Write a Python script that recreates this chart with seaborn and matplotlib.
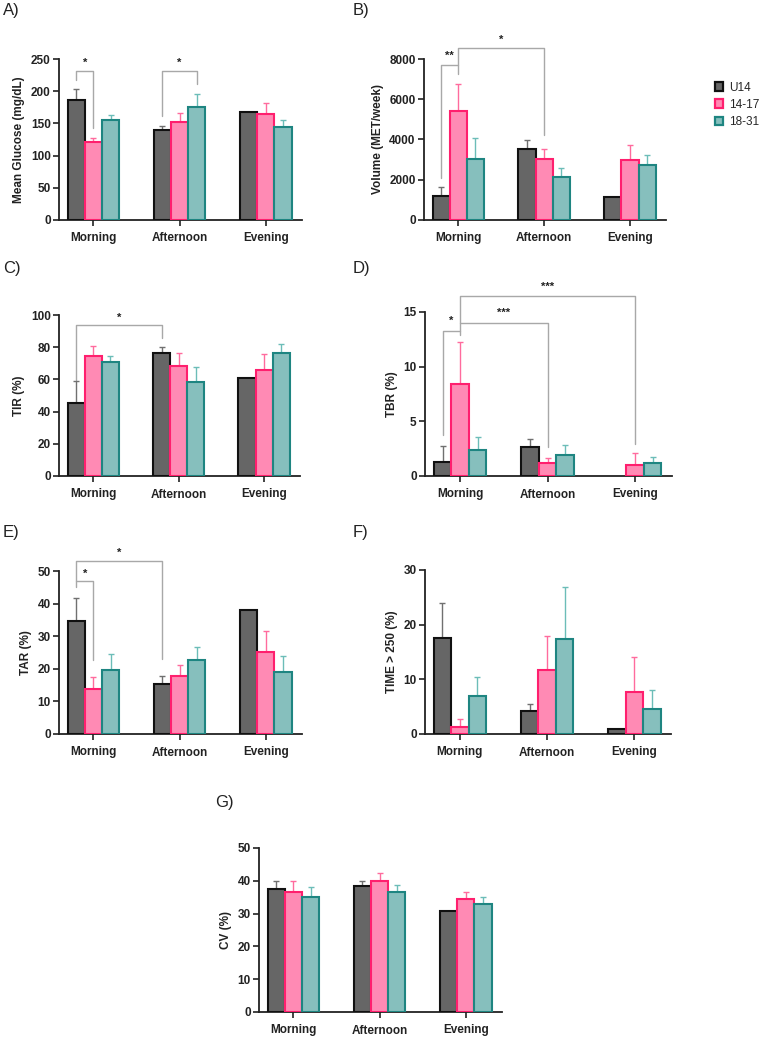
import numpy as np
import pandas as pd
import matplotlib
matplotlib.use("Agg")
import matplotlib.pyplot as plt
import seaborn as sns
from matplotlib.patches import Patch

# ---------------- data ----------------
periods = ["Morning", "Afternoon", "Evening"]
groups = ["U14", "14-17", "18-31"]

glu_u14 = [187, 140, 167]
glu_1417 = [121, 152, 164]
glu_1831 = [155, 176, 145]
glu_u14_err = [16, 6, 0]
glu_1417_err = [6, 14, 17]
glu_1831_err = [8, 20, 10]

vol_u14 = [1200, 3520, 1150]
vol_1417 = [5400, 3050, 3000]
vol_1831 = [3050, 2140, 2720]
vol_u14_err = [450, 440, 0]
vol_1417_err = [1380, 500, 720]
vol_1831_err = [1000, 450, 530]

tir_u14 = [45.5, 76.3, 60.6]
tir_1417 = [74.7, 68.3, 65.8]
tir_1831 = [70.7, 58.1, 76.1]
tir_u14_err = [13.5, 3.6, 0]
tir_1417_err = [6.0, 8.3, 9.9]
tir_1831_err = [3.8, 9.3, 6.1]

tbr_u14 = [1.28, 2.62, 0]
tbr_1417 = [8.38, 1.22, 1.04]
tbr_1831 = [2.41, 1.95, 1.16]
tbr_u14_err = [1.43, 0.8, 0]
tbr_1417_err = [3.88, 0.46, 1.06]
tbr_1831_err = [1.16, 0.85, 0.58]

tar_u14 = [34.8, 15.2, 37.9]
tar_1417 = [13.8, 17.8, 25.2]
tar_1831 = [19.6, 22.7, 19.1]
tar_u14_err = [7.0, 2.7, 0]
tar_1417_err = [3.6, 3.3, 6.4]
tar_1831_err = [4.8, 4.0, 4.9]

t250_u14 = [17.6, 4.2, 1.0]
t250_1417 = [1.3, 11.7, 7.6]
t250_1831 = [6.86, 17.45, 4.5]
t250_u14_err = [6.3, 1.3, 0]
t250_1417_err = [1.5, 6.2, 6.5]
t250_1831_err = [3.6, 9.5, 3.5]

cv_u14 = [37.4, 38.5, 30.9]
cv_1417 = [36.6, 39.8, 34.4]
cv_1831 = [35.2, 36.5, 33.0]
cv_u14_err = [2.6, 1.3, 0]
cv_1417_err = [3.2, 2.5, 2.3]
cv_1831_err = [2.8, 2.1, 2.1]

# significance brackets: (cat1, grp1, cat2, grp2, y_top, y_left_end, y_right_end, label, label_y)
sig_A = [(0, 0, 0, 1, 232, 217, 143, "*", 244),
         (1, 0, 1, 2, 232, 162, 211, "*", 244)]
sig_B = [(0, 0, 0, 1, 7720, 2095, 7260, "**", 8150),
         (0, 1, 1, 1, 8550, 7720, 4224, "*", 8950)]
sig_C = [(0, 0, 1, 0, 93.8, 59.5, 85.9, "*", 98.5)]
sig_D = [(0, 0, 0, 1, 13.3, 3.75, 12.9, "*", 14.2),
         (0, 1, 1, 1, 14.0, 13.3, 2.65, "***", 14.9),
         (0, 1, 2, 1, 16.5, 14.0, 2.9, "***", 17.3)]
sig_E = [(0, 0, 0, 1, 46.9, 45.1, 22.7, "*", 49.2),
         (0, 0, 1, 0, 53.0, 46.9, 23.0, "*", 55.5)]

# ---------------- style ----------------
fill_colors = ["#666666", "#FF8AB4", "#86BFBD"]
edge_colors = ["#111111", "#FF1F6E", "#1E8581"]
err_colors = ["#707070", "#FF6B9E", "#6CBDB8"]
bracket_color = "#A8A8A8"

sns.set_style("ticks")
plt.rcParams["font.family"] = ["Liberation Sans", "DejaVu Sans"]
plt.rcParams["font.weight"] = "bold"
plt.rcParams["axes.labelweight"] = "bold"
plt.rcParams["xtick.major.pad"] = 5
plt.rcParams["ytick.major.pad"] = 2

W, H = 761, 1038
fig = plt.figure(figsize=(W / 100, H / 100), dpi=100)


def make_ax(box):
    l, t, r, b = box
    return fig.add_axes([l / W, 1 - b / H, (r - l) / W, (b - t) / H])


def panel(box, vals, errs, yticks, ylabel, sigs=()):
    ax = make_ax(box)
    rows = []
    for g, v in zip(groups, vals):
        for p, val in zip(periods, v):
            rows.append({"period": p, "group": g, "value": val})
    df = pd.DataFrame(rows)
    sns.barplot(data=df, x="period", y="value", hue="group", order=periods,
                hue_order=groups, palette=fill_colors, width=0.6, errorbar=None,
                ax=ax, legend=False, linewidth=1.5, saturation=1)
    for cont, ec, erc, er in zip(ax.containers, edge_colors, err_colors, errs):
        for patch, e in zip(cont, er):
            patch.set_edgecolor(ec)
            patch.set_zorder(3)
            if patch.get_height() == 0:
                patch.set_visible(False)
                continue
            if e > 0:
                xc = patch.get_x() + patch.get_width() / 2
                yv = patch.get_height()
                ax.errorbar([xc], [yv], yerr=[[0], [e]], fmt="none", ecolor=erc,
                            elinewidth=1.0, capsize=2, capthick=1.0, zorder=2)
    ax.set_xlim(-0.40, 2.42)
    ax.set_ylim(0, yticks[-1])
    ax.set_yticks(yticks)
    ax.set_xlabel("")
    ax.set_ylabel(ylabel, fontsize=8.5, fontweight="bold", labelpad=4,
                  color="#222222")
    sns.despine(ax=ax)
    for s in ["left", "bottom"]:
        ax.spines[s].set_linewidth(1.3)
        ax.spines[s].set_color("#222222")
    ax.tick_params(axis="both", length=4, width=1.2, color="#222222",
                   labelsize=8.5, labelcolor="#222222")
    for (c1, g1, c2, g2, yt, yl, yr, txt, ty) in sigs:
        x1 = c1 + (g1 - 1) * 0.2
        x2 = c2 + (g2 - 1) * 0.2
        ax.plot([x1, x1, x2, x2], [yl, yt, yt, yr], color=bracket_color,
                lw=1.0, clip_on=False, zorder=1)
        ax.text((x1 + x2) / 2, ty, txt, ha="center", va="center", fontsize=8,
                fontweight="bold", clip_on=False, color="#222222")
    return ax


axA = panel((59, 59, 302, 220), [glu_u14, glu_1417, glu_1831],
            [glu_u14_err, glu_1417_err, glu_1831_err], [0, 50, 100, 150, 200, 250],
            "Mean Glucose (mg/dL)", sig_A)
axB = panel((424, 59, 666, 220), [vol_u14, vol_1417, vol_1831],
            [vol_u14_err, vol_1417_err, vol_1831_err], [0, 2000, 4000, 6000, 8000],
            "Volume (MET/week)", sig_B)
axC = panel((59, 315, 300, 476), [tir_u14, tir_1417, tir_1831],
            [tir_u14_err, tir_1417_err, tir_1831_err], [0, 20, 40, 60, 80, 100],
            "TIR (%)", sig_C)
axD = panel((425, 312, 672, 476), [tbr_u14, tbr_1417, tbr_1831],
            [tbr_u14_err, tbr_1417_err, tbr_1831_err], [0, 5, 10, 15],
            "TBR (%)", sig_D)
axE = panel((59, 571, 302, 734), [tar_u14, tar_1417, tar_1831],
            [tar_u14_err, tar_1417_err, tar_1831_err], [0, 10, 20, 30, 40, 50],
            "TAR (%)", sig_E)
axF = panel((425, 570, 671, 734), [t250_u14, t250_1417, t250_1831],
            [t250_u14_err, t250_1417_err, t250_1831_err], [0, 10, 20, 30],
            "TIME > 250 (%)")
axG = panel((259, 848, 502, 1012), [cv_u14, cv_1417, cv_1831],
            [cv_u14_err, cv_1417_err, cv_1831_err], [0, 10, 20, 30, 40, 50],
            "CV (%)")

# panel letters
for txt, x, y in [("A)", 3, 11), ("B)", 353, 11), ("C)", 3, 268), ("D)", 353, 268),
                  ("E)", 3, 532), ("F)", 353, 532), ("G)", 215, 803)]:
    fig.text(x / W, 1 - y / H, txt, ha="left", va="center", fontsize=12,
             fontweight="normal", color="#222222")

# legend
leg_handles = [Patch(facecolor=fc, edgecolor=ec, linewidth=1.6)
               for fc, ec in zip(fill_colors, edge_colors)]
leg = fig.legend(leg_handles, groups, loc="upper left",
                 bbox_to_anchor=(704 / W, 1 - 71 / H), frameon=False,
                 handlelength=0.75, handleheight=0.75, handletextpad=0.5,
                 labelspacing=0.45,
                 prop={"size": 8.5, "weight": "normal",
                       "family": ["Liberation Sans", "DejaVu Sans"]})

fig.savefig("out.png", dpi=100)
